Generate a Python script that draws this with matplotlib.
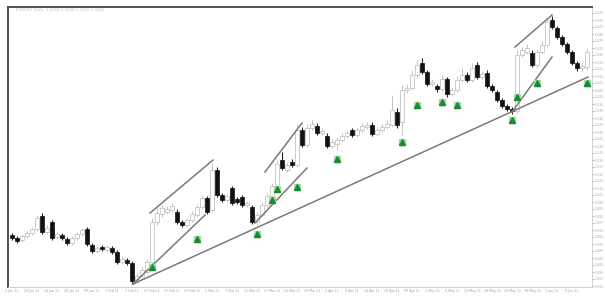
import matplotlib
matplotlib.use("Agg")
import matplotlib.pyplot as plt
from matplotlib.ticker import FuncFormatter, MultipleLocator
import numpy as np

# candle prices (chart units), one entry per bar
opens = [65, 62, 60, 64, 67, 71, 84, 68, 78, 63, 65, 61, 57, 62, 66, 71, 55, 49, 53, 50,
         52, 48, 38, 40, 37, 20, 24, 28, 38, 78, 86, 88, 90, 88, 78, 75, 80, 85, 93, 102,
         90, 130, 105, 100, 112, 101, 103, 95, 93, 78, 85, 95, 104, 114, 140, 130, 138, 135, 170, 155,
         172, 174, 167, 164, 154, 156, 160, 164, 170, 165, 170, 173, 175, 166, 170, 173, 175, 188, 178, 210,
         212, 225, 237, 228, 216, 214, 211, 221, 206, 210, 220, 225, 220, 235, 223, 227, 214, 208, 200, 194,
         191, 189, 245, 248, 247, 235, 248, 255, 280, 272, 263, 256, 248, 237, 232, 233]
closes = [62, 59, 64, 67, 71, 82, 68, 72, 62, 66, 62, 57, 62, 66, 70, 56, 49, 52, 51, 53,
          48, 38, 41, 37, 19, 24, 30, 38, 78, 87, 92, 91, 94, 78, 75, 80, 86, 93, 102, 88,
          130, 105, 100, 104, 97, 98, 95, 97, 78, 85, 95, 104, 114, 136, 132, 135, 135, 170, 155, 172,
          176, 167, 169, 154, 158, 160, 164, 167, 165, 170, 174, 175, 166, 170, 173, 176, 190, 175, 210, 212,
          225, 235, 228, 216, 218, 211, 221, 206, 210, 220, 225, 220, 232, 223, 226, 214, 210, 200, 194, 191,
          189, 245, 250, 252, 235, 248, 255, 278, 273, 263, 256, 248, 237, 232, 234, 248]
highs = [67, 64, 66, 69, 73, 85, 87, 75, 80, 68, 67, 63, 64, 68, 72, 73, 57, 54, 55, 55,
         54, 50, 43, 42, 39, 27, 33, 41, 82, 92, 95, 94, 97, 91, 80, 82, 89, 96, 105, 104,
         137, 133, 107, 106, 114, 103, 105, 99, 95, 88, 98, 107, 117, 140, 148, 138, 141, 176, 173, 176,
         180, 177, 172, 167, 161, 163, 167, 170, 172, 173, 177, 178, 178, 173, 176, 180, 205, 192, 215, 216,
         229, 240, 242, 230, 221, 216, 225, 223, 213, 224, 232, 228, 237, 238, 229, 230, 216, 210, 202, 196,
         193, 250, 253, 256, 250, 251, 259, 282, 284, 274, 265, 258, 250, 239, 237, 252]
lows = [60, 57, 58, 62, 65, 69, 66, 66, 60, 61, 60, 55, 55, 60, 64, 54, 47, 47, 49, 48,
        46, 36, 36, 35, 16, 17, 22, 26, 35, 75, 83, 86, 88, 76, 73, 73, 78, 83, 91, 86,
        88, 103, 98, 98, 95, 96, 93, 93, 76, 75, 83, 93, 102, 112, 130, 128, 133, 133, 153, 153,
        170, 165, 165, 152, 152, 150, 158, 162, 163, 163, 168, 171, 164, 164, 168, 171, 173, 172, 165, 207,
        210, 222, 226, 214, 214, 208, 209, 203, 204, 208, 218, 218, 218, 221, 221, 212, 208, 198, 192, 189,
        186, 187, 243, 246, 233, 232, 246, 253, 271, 261, 254, 246, 235, 229, 229, 230]

# buy signal arrows (bar index, price)
arrow_idx = [28, 37, 49, 52, 53, 57, 65, 78, 81, 86, 89, 100, 101, 105, 115]
arrow_val = [33, 61, 66, 100, 111, 113, 141, 158, 195, 198, 195, 180, 203, 217, 217]

# trend / channel lines: (x0, y0, x1, y1) in bar index and price
trend_lines = [
    (24.2, 16, 115.2, 223),
    (24.2, 16, 38.6, 85),
    (27.6, 87, 40.2, 140),
    (48.6, 77, 59.0, 132),
    (50.6, 128, 58.0, 177),
    (100.0, 188, 108.0, 243),
    (100.6, 253, 108.0, 285),
]

date_labels = ["4 Jan 11", "10 Jan 11", "14 Jan 11", "20 Jan 11", "26 Jan 11",
               "1 Feb 11", "7 Feb 11", "11 Feb 11", "17 Feb 11", "23 Feb 11",
               "1 Mar 11", "7 Mar 11", "11 Mar 11", "17 Mar 11", "23 Mar 11",
               "29 Mar 11", "4 Apr 11", "8 Apr 11", "14 Apr 11", "20 Apr 11",
               "26 Apr 11", "2 May 11", "6 May 11", "12 May 11", "18 May 11",
               "24 May 11", "30 May 11", "3 Jun 11", "9 Jun 11"]

opens = np.array(opens)
closes = np.array(closes)
highs = np.array(highs)
lows = np.array(lows)
idx = np.arange(len(opens))

fig = plt.figure(figsize=(6.05, 2.97), dpi=100)
ax = fig.add_axes([8 / 605, 10 / 297, 584 / 605, 280 / 297])

up = closes >= opens
dn = ~up

# wicks
ax.vlines(idx[up], lows[up], highs[up], color="#c4c4c4", lw=0.7, zorder=2)
ax.vlines(idx[dn], lows[dn], highs[dn], color="#222222", lw=0.8, zorder=3)

# bodies
body_h = np.maximum(np.abs(closes - opens), 0.8)
body_b = np.minimum(opens, closes)
ax.bar(idx[up], body_h[up], bottom=body_b[up], width=0.62,
       facecolor="white", edgecolor="#c4c4c4", lw=0.6, zorder=2)
ax.bar(idx[dn], body_h[dn], bottom=body_b[dn], width=0.62,
       facecolor="#111111", edgecolor="#111111", lw=0.5, zorder=3)

for x0, y0, x1, y1 in trend_lines:
    ax.plot([x0, x1], [y0, y1], color="#7a7a7a", lw=1.1, zorder=4)

ax.plot(arrow_idx, arrow_val, ls="none", marker="s", ms=4.5,
        color="#a6dcaa", zorder=5)
ax.plot(arrow_idx, arrow_val, ls="none", marker="^", ms=4,
        color="#1c8a34", zorder=6)

ax.set_xlim(-0.8, 116)
ax.set_ylim(13, 293)

ax.set_xticks(idx[::4][:len(date_labels)])
ax.set_xticklabels(date_labels, fontsize=2.3, color="#a0a0a0")
ax.tick_params(axis="x", length=0, pad=1.5)

ax.yaxis.tick_right()
ax.yaxis.set_major_locator(MultipleLocator(7))
ax.yaxis.set_major_formatter(FuncFormatter(lambda v, _: f"{1.30 + v / 10000:.4f}"))
ax.tick_params(axis="y", length=1.5, width=0.6, color="#b0b0b0",
               labelsize=1.9, labelcolor="#a8a8a8", pad=0.3)

for side in ["left", "top"]:
    ax.spines[side].set_color("#505050")
    ax.spines[side].set_linewidth(1.4)
for side in ["right", "bottom"]:
    ax.spines[side].set_color("#c8c8c8")
    ax.spines[side].set_linewidth(0.6)

fig.text(16 / 605, 1 - 11 / 297, "EURUSD,Daily  1.3250 1.3268 1.3242 1.3261",
         fontsize=2.8, color="#c0c0c0")

fig.savefig("out.png", dpi=100)
